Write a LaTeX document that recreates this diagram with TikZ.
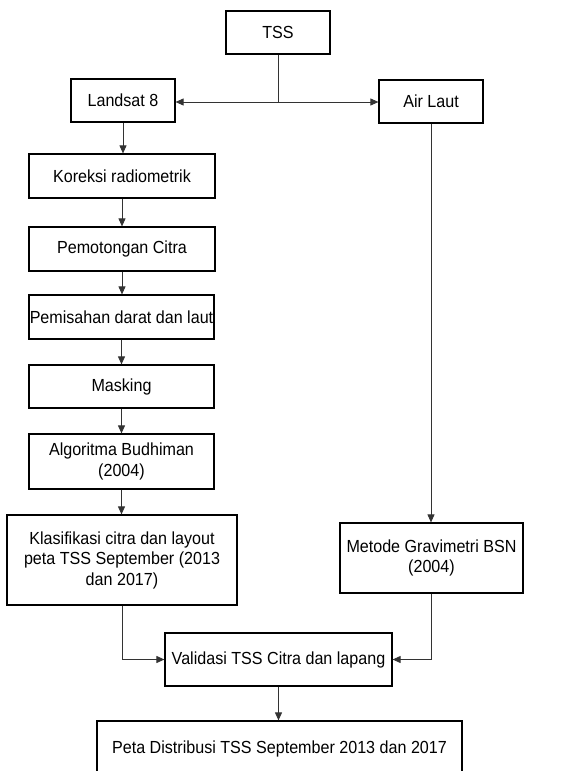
\documentclass[tikz,border=0pt]{standalone}
\usepackage{fontspec}
\setmainfont[FakeStretch=0.92]{Liberation Sans}
\usetikzlibrary{arrows.meta}
\begin{document}
\begin{tikzpicture}[x=1pt,y=-1pt,
  box/.style={draw=black,line width=1.2pt,inner sep=0pt,align=center,
    font=\fontsize{17.5}{20.5}\selectfont},
  conn/.style={draw=black!80,line width=0.9pt},
  arr/.style={conn,-{Triangle[length=8pt,width=7pt]}}]
\useasboundingbox (0,0) rectangle (587,771);
\clip (0,0) rectangle (587,771);
\fill[white] (0,0) rectangle (587,771);
% boxes
\node[box,minimum width=104pt,minimum height=43pt] (tss) at (278,32.5) {TSS};
\node[box,minimum width=104pt,minimum height=43pt] (landsat) at (123,100.5) {Landsat 8};
\node[box,minimum width=104pt,minimum height=43pt] (air) at (431,101.5) {Air Laut};
\node[box,minimum width=186pt,minimum height=44pt] (kor) at (122,176) {Koreksi radiometrik};
\node[box,minimum width=186pt,minimum height=44pt] (pem) at (122,249) {Pemotongan Citra};
\node[box,minimum width=185pt,minimum height=44pt] (pmd) at (121.5,317) {Pemisahan darat dan laut};
\node[box,minimum width=185pt,minimum height=43pt] (mask) at (121.5,386.5) {Masking};
\node[box,minimum width=185pt,minimum height=55pt] (alg) at (121.5,461.5) {Algoritma Budhiman\\(2004)};
\node[box,minimum width=230pt,minimum height=90pt] (kla) at (122,560) {Klasifikasi citra dan layout\\peta TSS September (2013\\dan 2017)};
\node[box,minimum width=183pt,minimum height=70pt] (met) at (431.5,558) {Metode Gravimetri BSN\\(2004)};
\node[box,minimum width=227pt,minimum height=53pt] (val) at (278.5,659.5) {Validasi TSS Citra dan lapang};
\node[box,minimum width=365pt,minimum height=56pt] (peta) at (279.5,749) {Peta Distribusi TSS September 2013 dan 2017};
% connectors
\coordinate (j) at (tss.south |- 0,102);
\draw[conn] (tss.south) -- (j);
\draw[arr] (j) -- (landsat.east |- j);
\draw[arr] (j) -- (air.west |- j);
\draw[arr] (landsat.south) -- (landsat.south |- kor.north);
\draw[arr] (kor.south) -- (pem.north);
\draw[arr] (pem.south) -- (pmd.north -| pem.south);
\draw[arr] (pmd.south) -- (mask.north);
\draw[arr] (mask.south) -- (alg.north);
\draw[arr] (alg.south) -- (alg.south |- kla.north);
\draw[arr] (air.south) -- (air.south |- met.north);
\draw[arr] (kla.south) |- (val.west);
\draw[arr] (met.south -| air.south) |- (val.east);
\draw[arr] (val.south) -- (val.south |- peta.north);
\end{tikzpicture}
\end{document}
